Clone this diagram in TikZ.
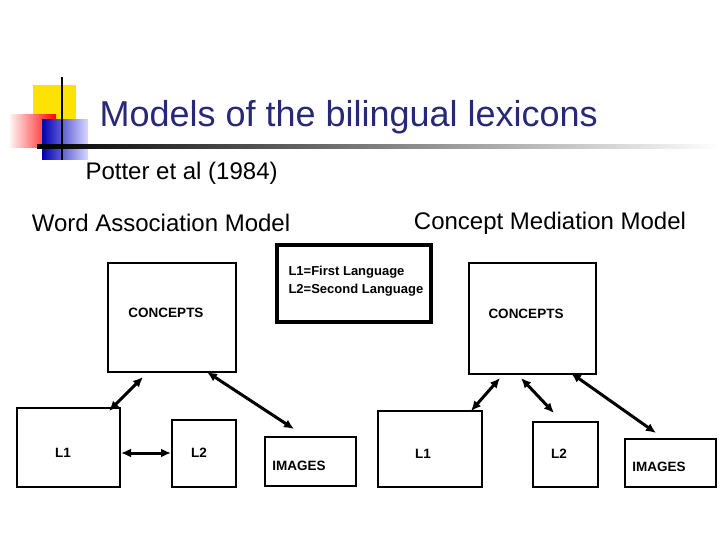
\documentclass[tikz,border=0pt]{standalone}
\usepackage{fontspec}
\setmainfont{Liberation Sans}
\usetikzlibrary{arrows.meta}
\definecolor{navy}{RGB}{40,40,120}
\tikzset{
  bx/.style={draw,line width=2.3pt},
  lbl/.style={font=\bfseries\fontsize{13.5}{15}\selectfont},
  arr/.style={line width=3pt,{Latex[length=10pt,width=9pt]}-{Latex[length=10pt,width=9pt]}},
}
\begin{document}
\begin{tikzpicture}[x=1pt,y=-1pt]
\useasboundingbox (0,0) rectangle (720,540);
\fill[white] (0,0) rectangle (720,540);
% logo
\fill[yellow!85!orange] (33,85) rectangle (76,120);
\shade[left color=red!5,right color=red] (10,115) rectangle (56,148);
\shade[left color=blue!70!black,right color=blue!15] (42,120) rectangle (88,160);
\shade[left color=black,right color=white] (37,145) rectangle (720,149);
\draw[line width=2pt] (62,77) -- (62,160);
\node[anchor=west,text=navy,font=\fontsize{36}{40}\selectfont] (t) at (96,117) {Models of the bilingual lexicons};
\node[anchor=west,font=\fontsize{24}{28}\selectfont] (p) at (82,173) {Potter et al (1984)};
\node[font=\fontsize{24}{28}\selectfont] (wa) at (161,223) {Word Association Model};
\node[font=\fontsize{24}{28}\selectfont] (cm) at (550,223) {Concept Mediation Model};
% boxes
\draw[bx] (108,263) rectangle (236,372); \node[lbl] (c1) at (166,313) {CONCEPTS};
\node[draw,line width=4pt,minimum width=154pt,minimum height=77pt] (leg) at (354,283) {};
\node[lbl,anchor=west,align=left,font=\bfseries\fontsize{13}{15}\selectfont] (legt) at (285,281) {L1=First Language\\[3pt]L2=Second Language};
\draw[bx] (469,263) rectangle (596,374); \node[lbl] (c2) at (526,314) {CONCEPTS};
\draw[bx] (17,408) rectangle (120,487); \node[lbl] (a1) at (63,453) {L1};
\draw[bx] (172,420) rectangle (236,487); \node[lbl] (a2) at (199,453) {L2};
\draw[bx] (265,437) rectangle (356,486); \node[lbl] (ai) at (299,466) {IMAGES};
\draw[bx] (378,411) rectangle (482,487); \node[lbl] (b1) at (423,454) {L1};
\draw[bx] (533,422) rectangle (598,487); \node[lbl] (b2) at (559,454) {L2};
\draw[bx] (625,439) rectangle (716,487); \node[lbl] (bi) at (659,467) {IMAGES};
% arrow endpoints
\coordinate (p1) at (143,377); \coordinate (p2) at (109,411);
\coordinate (p3) at (207,372); \coordinate (p4) at (294,429);
\coordinate (p5) at (121,453); \coordinate (p6) at (171,453);
\coordinate (q1) at (500,378); \coordinate (q2) at (471,411);
\coordinate (q3) at (521,378); \coordinate (q4) at (554,413);
\coordinate (q5) at (571,373); \coordinate (q6) at (656,433);
\draw[arr] (p1) -- (p2);
\draw[arr] (p3) -- (p4);
\draw[arr] (p5) -- (p6);
\draw[arr] (q1) -- (q2);
\draw[arr] (q3) -- (q4);
\draw[arr] (q5) -- (q6);
\end{tikzpicture}
\end{document}
